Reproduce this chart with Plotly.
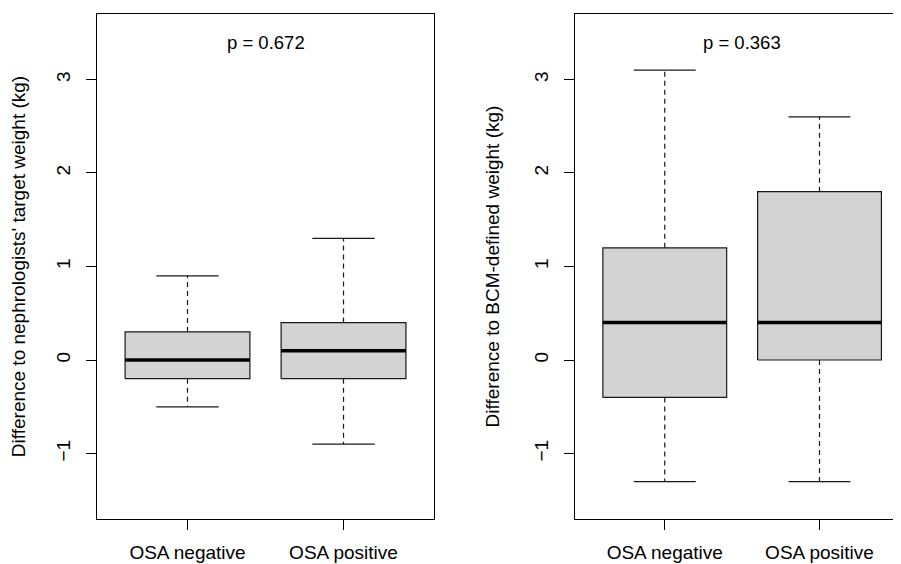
import plotly.graph_objects as go

# ---- data ----
groups = ["OSA negative", "OSA positive"]
positions = [1, 2]

# Left panel: difference to nephrologists' target weight (kg)
left_lower = [-0.5, -0.9]
left_q1 = [-0.2, -0.2]
left_median = [0.0, 0.1]
left_q3 = [0.3, 0.4]
left_upper = [0.9, 1.3]
left_p = "p = 0.672"
left_title = "Difference to nephrologists' target weight (kg)"

# Right panel: difference to BCM-defined weight (kg)
right_lower = [-1.3, -1.3]
right_q1 = [-0.4, 0.0]
right_median = [0.4, 0.4]
right_q3 = [1.2, 1.8]
right_upper = [3.1, 2.6]
right_p = "p = 0.363"
right_title = "Difference to BCM-defined weight (kg)"

y_ticks = [-1, 0, 1, 2, 3]

FONT = "Liberation Sans, Arial, Helvetica, sans-serif"
BOXW = 0.4   # half box width (R boxwex 0.8)
CAPW = 0.2   # half staple width
FILL = "#D3D3D3"
LINE = "#1a1a1a"

fig = go.Figure()


def add_panel(xa, ya, lower, q1, med, q3, upper):
    for p, lo, a, m, b, up in zip(positions, lower, q1, med, q3, upper):
        # whiskers (dashed)
        fig.add_trace(go.Scatter(
            x=[p, p, None, p, p], y=[b, up, None, a, lo], mode="lines",
            line=dict(color=LINE, width=1.2, dash="5px,4px"),
            xaxis=xa, yaxis=ya, hoverinfo="skip", showlegend=False))
        # staples
        fig.add_trace(go.Scatter(
            x=[p - CAPW, p + CAPW, None, p - CAPW, p + CAPW],
            y=[up, up, None, lo, lo], mode="lines",
            line=dict(color=LINE, width=1.3),
            xaxis=xa, yaxis=ya, hoverinfo="skip", showlegend=False))
        # box
        fig.add_trace(go.Scatter(
            x=[p - BOXW, p + BOXW, p + BOXW, p - BOXW, p - BOXW],
            y=[a, a, b, b, a], mode="lines", fill="toself", fillcolor=FILL,
            line=dict(color=LINE, width=1.2),
            xaxis=xa, yaxis=ya, hoverinfo="skip", showlegend=False))
        # median
        fig.add_trace(go.Scatter(
            x=[p - BOXW, p + BOXW], y=[m, m], mode="lines",
            line=dict(color="black", width=3.5),
            xaxis=xa, yaxis=ya, hoverinfo="skip", showlegend=False))


add_panel("x", "y", left_lower, left_q1, left_median, left_q3, left_upper)
add_panel("x2", "y2", right_lower, right_q1, right_median, right_q3, right_upper)

W, H = 901, 564
ydom = [1 - 511 / H, 1 - 6 / H]

axis_common = dict(
    showgrid=False, zeroline=False, showline=True, linecolor="black", linewidth=1.4,
    ticks="outside", ticklen=10, tickwidth=1.2, tickcolor="black",
    tickfont=dict(family=FONT, size=19, color="black"),
)

fig.update_layout(
    width=W, height=H,
    margin=dict(l=0, r=0, t=0, b=0),
    paper_bgcolor="white", plot_bgcolor="white",
    font=dict(family=FONT, color="black"),
    xaxis=dict(domain=[89 / W, 426 / W], range=[0.42, 2.58], mirror=True,
               tickvals=positions, ticktext=groups, ticklabelstandoff=6,
               anchor="y", **axis_common),
    yaxis=dict(domain=ydom, range=[-1.7, 3.7], mirror=True, tickvals=y_ticks,
               tickangle=-90, ticklabelstandoff=8, anchor="x",
               title=dict(text=left_title, font=dict(family=FONT, size=19), standoff=26),
               **axis_common),
    xaxis2=dict(domain=[567 / W, 894 / W], range=[0.42, 2.533], mirror=True,
                tickvals=positions, ticktext=groups, ticklabelstandoff=6,
                anchor="y2", **axis_common),
    yaxis2=dict(domain=ydom, range=[-1.7, 3.7], mirror=False, tickvals=y_ticks,
                tickangle=-90, ticklabelstandoff=8, anchor="x2",
                title=dict(text=right_title, font=dict(family=FONT, size=19), standoff=26),
                **axis_common),
)

fig.add_annotation(x=1.5, y=3.4, xref="x", yref="y", text=left_p, showarrow=False,
                   font=dict(family=FONT, size=18.5, color="black"))
fig.add_annotation(x=1.5, y=3.4, xref="x2", yref="y2", text=right_p, showarrow=False,
                   font=dict(family=FONT, size=18.5, color="black"))

fig.write_html("out.html")
